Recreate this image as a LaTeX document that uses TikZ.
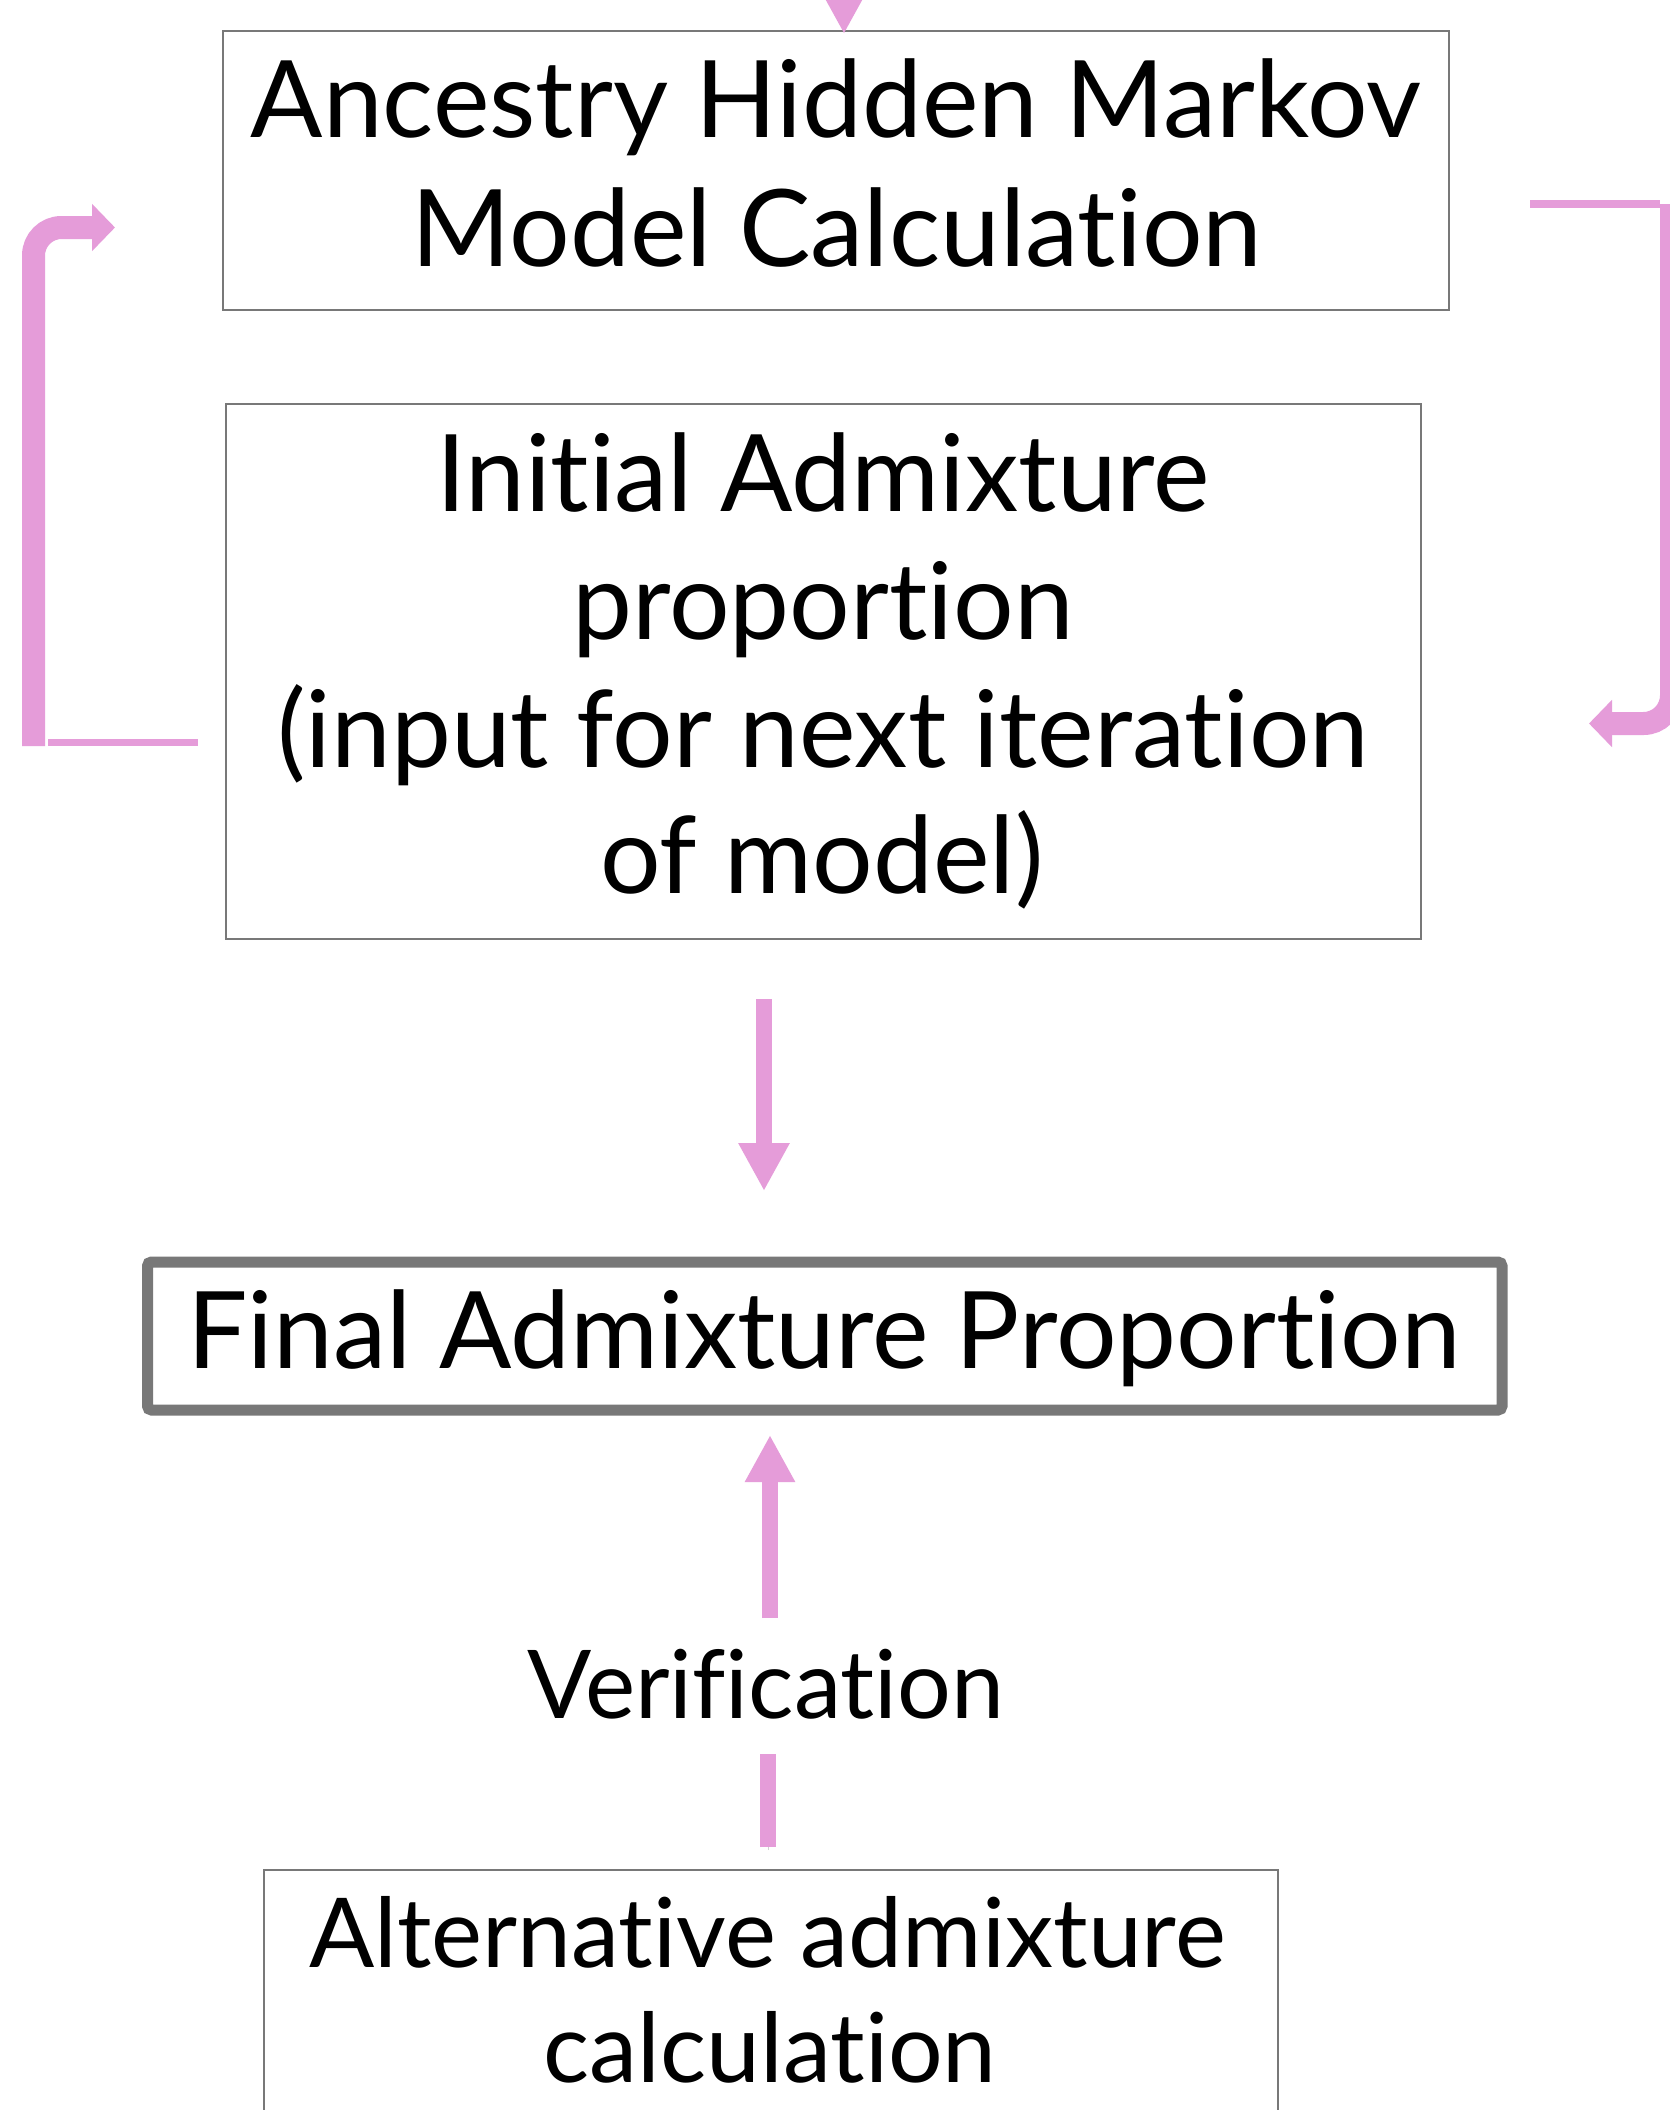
\documentclass[tikz,border=0pt]{standalone}
\usepackage{fontspec}
\setmainfont{Lato}[Ligatures=NoCommon]
\usetikzlibrary{arrows.meta}
\definecolor{pinkA}{RGB}{229,156,217}
\definecolor{boxgray}{RGB}{120,120,120}
\begin{document}
\begin{tikzpicture}[x=1pt,y=-1pt,
  box/.style={draw=boxgray, line width=2pt, inner sep=0pt, outer sep=0pt, fill=white},
  txt/.style={anchor=base, inner sep=0pt, font=\fontsize{107}{128}\selectfont},
  smalltxt/.style={anchor=base, inner sep=0pt, font=\fontsize{96.5}{115}\selectfont},
  shaft/.style={draw=pinkA, line width=16pt},
  loopar/.style={draw=pinkA, line width=23pt, rounded corners=28pt, -{Triangle[width=46pt,length=23pt]}},
  thinbar/.style={draw=pinkA, line width=7.5pt},
  soft/.style={preaction={draw=black, draw opacity=.18, transform canvas={yshift=-3pt}}},
  bigtip/.style={-{Triangle[width=48pt,length=48pt]}}
]
\useasboundingbox (0,0) rectangle (1670,2110);
\begin{scope}
\clip (0,0) rectangle (1670,2110);
\fill[white] (0,0) rectangle (1670,2110);

% boxes
\node[box, minimum width=1226pt, minimum height=279pt] (hmm) at (836,170.5) {};
\node[box, minimum width=1195pt, minimum height=535pt] (init) at (823.5,671.5) {};
\node[box, draw=boxgray, line width=11pt, rounded corners=4pt, minimum width=1354.5pt, minimum height=148pt] (final) at (824.75,1336) {};
\node[box, minimum width=1014pt, minimum height=330pt] (alt) at (771,2035) {};

% texts
\node[txt] (t1) at (836,137) {Ancestry Hidden Markov};
\node[txt] (t2) at (837,266) {Model Calculation};
\node[txt] (t3) at (823,511) {Initial Admixture};
\node[txt] (t4) at (823,639) {proportion};
\node[txt] (t5) at (823,767) {(input for next iteration};
\node[txt] (t6) at (822,893) {of model)};
\node[txt] (t7) at (824,1368) {Final Admixture Proportion};
\node[smalltxt, font=\fontsize{95}{114}\selectfont] (ver) at (766,1718) {Verification};
\node[smalltxt] (t8) at (767.5,1967) {Alternative admixture};
\node[smalltxt] (t9) at (770,2082) {calculation};

% top incoming arrow
\coordinate (topsrc) at (844,-120);
\draw[shaft, bigtip] (topsrc) -- ([xshift=8pt,yshift=-3pt]hmm.north);

% left loop
\coordinate (lthinA) at (48,742.5);
\coordinate (lthinB) at (198,742.5);
\draw[thinbar, soft] (lthinA) -- (lthinB);
\coordinate (lbot) at (33.5,746);
\coordinate (lcorner) at (33.5,227.5);
\coordinate (ltip) at (115,227.5);
\draw[loopar] (lbot) -- (lcorner) -- (ltip);

% right loop
\coordinate (rthinA) at (1530,204);
\coordinate (rthinB) at (1660,204);
\draw[thinbar, line width=8pt, soft] (rthinA) -- (rthinB);
\coordinate (rtop) at (1671.5,204);
\coordinate (rcorner) at (1671.5,723.5);
\coordinate (rtip) at (1589,723.5);
\draw[loopar] (rtop) -- (rcorner) -- (rtip);

% down arrow
\coordinate (dA) at (764,999);
\coordinate (dB) at (764,1191);
\draw[shaft, bigtip] (dA) -- (dB);

% verification arrow
\coordinate (uA) at (770,1618);
\coordinate (uB) at (770,1435);
\draw[shaft, -{Triangle[width=47pt,length=47pt]}] (uA) -- (uB);
\coordinate (vA) at (768,1847);
\coordinate (vB) at (768,1754);
\draw[shaft, soft] (vA) -- (vB);
\end{scope}
\end{tikzpicture}
\end{document}
